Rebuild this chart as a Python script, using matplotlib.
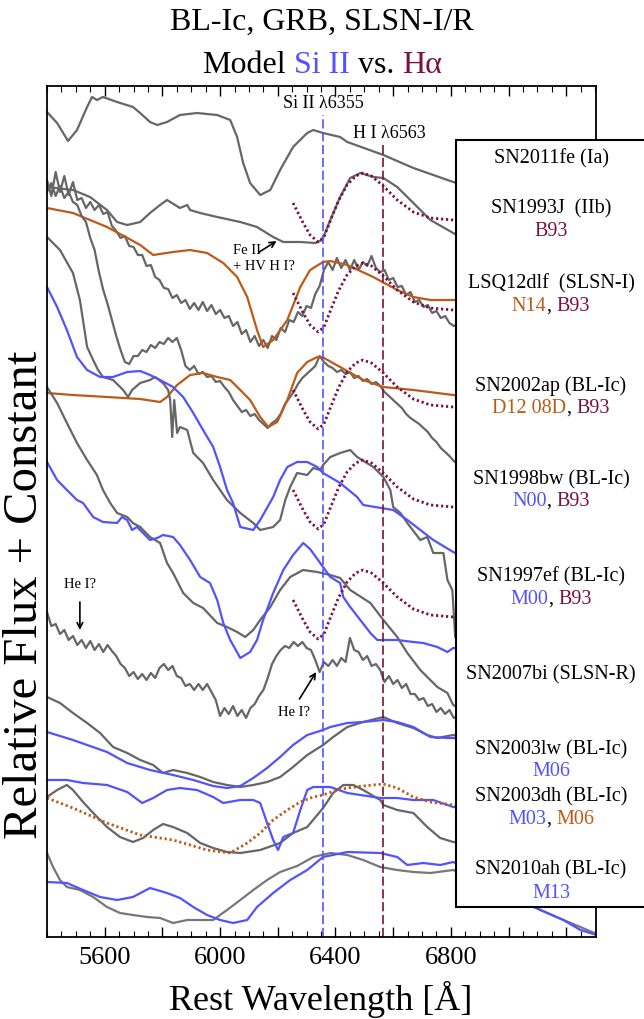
import numpy as np
import matplotlib
matplotlib.use("Agg")
import matplotlib.pyplot as plt
from matplotlib.patches import Rectangle

plt.rcParams['font.family'] = ['Liberation Serif', 'DejaVu Serif']

GRAY = '#666666'
BLUE = '#5252ff'
ORANGE = '#bd5a18'
MAROON = '#7a0f40'

# ---------------- data (wavelength in Angstrom, flux + constant, arbitrary units) -------------
GRID_START, GRID_STEP = 5400, 15   # sampling of the noisy spectra

fe11_wl = [5400,5435,5473,5504,5539,5556,5573,5594,5643,5698,5723,5757,5782,5816,5861,5920,5990,6035,
           6059,6080,6104,6139,6174,6208,6253,6302,6323,6357,6416,6441,6566,6670,6808,6972]
fe11_fx = [825,814,796,807,830,840,837,840,835,830,824,815,812,815,822,824,822,817,
           800,774,754,742,747,767,790,804,807,804,800,795,782,769,755,742]

j93_wl = [5400,5490,5549,5608,5643,5678,5723,5757,5792,5816,5861,5886,5896,5931,5990,6070,6128,
          6184,6219,6278,6330,6354,6382,6416,6451,6486,6531,6566,6614,6670,6729,6808,6900]
j93_fx = [750,747,740,727,715,712,715,724,732,737,729,732,727,724,720,715,710,
          700,695,695,694,697,717,740,759,764,760,759,750,734,717,704,690]

# B93 H-alpha model template (relative to its peak)
b93_wl = [6253,6288,6312,6340,6360,6382,6410,6440,6470,6495,6525,6566,6614,6670,6729,6808,6900]
b93_rel = [-30,-50,-62,-69,-64,-48,-28,-12,-3,0,-3,-13,-27,-39,-45,-47,-49]
b93_peak = {'SN1993J': 764, 'LSQ12dlf': 674, 'SN2002ap': 577, 'SN1998bw': 477, 'SN1997ef': 367}

lsq_fx = [757,741,765,745,761,742,755,737,739,729,
          735,727,732,723,725,711,706,699,701,691,
          690,682,682,671,672,660,657,649,648,639,
          642,634,637,628,634,627,635,626,632,623,
          627,619,621,611,615,603,607,595,601,591,
          597,589,601,597,609,605,617,615,625,621,
          631,629,643,651,667,675,667,679,669,677,
          667,677,667,675,671,681,669,665,667,657,
          659,650,651,642,645,635,637,630,632,624,
          626,619,621,614,611,613,609]

n14_wl = [5400,5490,5608,5660,5723,5768,5837,5896,5955,6011,6059,6094,6128,6149,6184,6233,6278,6312,
          6357,6382,6441,6531,6614,6670,6729,6808,6900]
n14_fx = [729,724,710,702,692,682,685,687,684,674,660,640,607,590,597,617,650,667,
          675,676,672,660,647,640,637,637,635]

ap02_fx = [745,754,741,751,739,745,735,732,721,715,
           699,687,665,647,633,617,601,587,575,573,
           581,581,587,585,592,589,595,593,599,595,
           599,587,571,567,571,563,565,560,561,555,
           556,550,545,537,531,525,527,521,523,517,
           513,509,514,517,523,533,539,545,553,559,
           563,567,571,581,575,571,569,565,567,563,
           565,559,561,556,558,553,555,551,545,541,
           537,533,529,523,519,516,513,509,505,499,
           495,489,485,481,476,473,469]

d12_wl = [5400,5490,5608,5723,5792,5816,5851,5896,5941,5990,6035,6070,6104,6139,6167,6198,6233,6267,
          6302,6337,6354,6416,6496,6566,6670,6808,6902]
d12_fx = [544,542,540,538,535,540,552,562,564,560,557,547,537,520,510,515,537,564,
          575,580,580,570,557,550,547,542,539]

bw98_wl = [5400,5445,5490,5514,5539,5560,5577,5594,5629,5664,5681,5695,5723,5757,5775,5802,5820,
           5827,5834,5841,5851,5861,5886,5907,5941,5976,6024,6070,6115,6139,6184,6208,6226,6243,
           6267,6302,6323,6347,6357,6382,6416,6451,6475,6531,6566,6590,6600,6625,6649,6694,6718,
           6739,6774,6788,6805,6815,6833]
bw98_fx = [700,687,664,637,590,577,567,560,557,547,540,547,554,557,560,554,547,
           537,500,537,504,510,507,484,474,457,437,424,414,407,410,417,437,450,
           464,462,469,467,472,480,484,487,480,470,460,447,430,424,414,397,400,
           384,384,357,347,300,290]

n00_wl = [5400,5435,5469,5504,5539,5584,5629,5678,5723,5757,5792,5837,5872,5907,5941,5976,6000,6024,
          6045,6070,6115,6139,6184,6208,6233,6267,6302,6337,6357,6416,6475,6496,6600,6649,6694,6739,
          6808,6902]
n00_fx = [650,630,607,580,567,560,560,565,566,562,557,550,540,524,507,490,470,447,
          434,410,407,417,440,457,470,475,475,470,464,454,440,432,427,417,407,397,
          385,372]

ef97_wl = [5400,5435,5469,5504,5539,5573,5594,5619,5643,5678,5698,5723,5757,5792,5816,5837,5872,5907,
           5941,5990,6024,6059,6087,6115,6139,6174,6208,6243,6288,6337,6382,6416,6451,6521,6566,6614,
           6649,6694,6753,6788,6808,6902]
ef97_fx = [550,534,514,494,477,462,447,434,424,420,414,410,400,394,374,364,344,334,
           329,314,310,305,300,307,317,330,347,360,367,365,362,359,347,334,317,300,
           284,267,250,244,232,217]

m00_wl = [5400,5435,5469,5504,5525,5560,5594,5643,5660,5678,5695,5712,5733,5757,5782,5802,5837,5861,
          5896,5931,5965,5990,6011,6035,6070,6104,6128,6149,6184,6219,6253,6288,6312,6347,6382,6416,
          6427,6451,6486,6521,6545,6614,6670,6704,6753,6788,6808,6902]
m00_fx = [475,457,447,437,434,420,415,414,420,417,407,410,404,397,399,402,400,392,
          377,360,354,337,314,297,279,285,297,317,344,367,382,394,388,374,360,354,
          340,330,317,304,297,297,295,294,290,285,289,287]

bi07_fx = [325,311,313,303,307,297,301,292,297,289,
           296,287,293,285,292,286,281,273,269,261,
           265,258,263,257,264,259,269,273,267,271,
           261,259,251,253,247,253,247,253,245,237,
           221,229,223,231,221,227,219,229,233,241,
           247,259,273,281,287,291,289,295,291,295,
           289,287,277,265,275,271,277,271,279,275,
           299,287,285,277,281,271,273,267,255,261,
           253,257,249,253,243,243,237,239,231,233,
           225,229,223,227,219,221,215]

lw03_wl = [5400,5445,5490,5539,5584,5629,5678,5723,5768,5802,5837,5886,5931,5976,6024,6070,6115,6163,
           6208,6253,6302,6357,6392,6441,6496,6566,6614,6670,6718,6753,6808,6902]
lw03_fx = [240,234,224,214,204,190,184,177,172,164,167,164,160,155,152,150,152,155,
           160,170,182,192,200,210,215,220,214,209,202,199,202,197]

m06lw_wl = [5400,5490,5608,5678,5757,5837,5907,5976,6024,6070,6115,6163,6208,6253,6302,6357,6382,
            6441,6496,6566,6614,6670,6729,6788,6808,6902]
m06lw_fx = [205,197,185,174,167,162,157,151,149,151,159,169,180,192,202,207,210,
            214,215,217,215,210,200,199,199,197]

dh03_wl = [5400,5435,5469,5490,5525,5560,5608,5653,5698,5733,5768,5802,5837,5886,5931,5976,6024,6070,
           6139,6208,6253,6302,6357,6392,6427,6462,6496,6555,6566,6614,6670,6718,6763,6808,6902]
dh03_fx = [140,147,152,147,135,124,110,100,95,99,107,113,110,104,94,89,85,84,
           87,94,104,110,129,144,152,152,147,137,132,127,124,110,99,95,92]

m03_wl = [5400,5469,5525,5608,5678,5730,5768,5816,5861,5920,5976,6011,6070,6115,6139,6163,6184,6201,
          6219,6253,6278,6302,6323,6382,6441,6555,6614,6670,6739,6788,6808,6902]
m03_fx = [157,157,154,152,145,134,139,147,149,147,140,134,137,137,134,114,97,87,
          100,104,127,147,150,150,144,139,139,137,137,132,130,127]

m06dh_wl = [5400,5490,5608,5723,5837,5955,6035,6094,6139,6184,6233,6278,6323,6357,6406,6441,6496,
            6566,6614,6670,6729,6808,6902]
m06dh_fx = [139,129,114,102,97,87,84,94,104,117,127,135,140,142,147,149,151,
            153,149,140,135,132,129]

ah10_wl = [5400,5421,5445,5469,5514,5560,5608,5653,5698,5747,5792,5837,5886,5931,5976,6024,6070,6115,
           6163,6208,6267,6323,6382,6441,6496,6555,6614,6670,6729,6808,6937,7086,7135,7190,7249,7305]
ah10_fx = [84,70,57,50,47,40,30,24,22,20,19,14,17,17,17,27,37,47,
           57,65,71,80,84,82,77,70,67,65,64,67,52,30,24,17,10,3]

m13_wl = [5400,5469,5525,5584,5643,5698,5757,5816,5861,5907,5955,6000,6045,6094,6128,6184,6243,6302,
          6357,6441,6555,6614,6649,6704,6763,6808,6937,7110,7190,7249,7305]
m13_fx = [55,54,47,40,37,40,49,44,39,30,22,17,14,17,30,44,57,67,
          80,85,84,80,72,74,72,75,57,27,17,7,2]

SI_WL, HA_WL = 6355, 6563
xtick_vals = [5600, 5800, 6000, 6200, 6400, 6600, 6800, 7000, 7200]
xtick_labels = ['5600', '', '6000', '', '6400', '', '6800', '', '']

legend_rows = [
    (157, [("SN2011fe (Ia)", 'k', 0)]),
    (207, [("SN1993J  (IIb)", 'k', 0)]),
    (230, [("B93", MAROON, 0)]),
    (282, [("LSQ12dlf  (SLSN-I)", 'k', 0)]),
    (305, [("N14", ORANGE, 0), (",", 'k', 1), ("B93", MAROON, 0)]),
    (385, [("SN2002ap (BL-Ic)", 'k', 0)]),
    (407, [("D12 08D", ORANGE, 0), (",", 'k', 1), ("B93", MAROON, 0)]),
    (478, [("SN1998bw (BL-Ic)", 'k', 0)]),
    (500, [("N00", BLUE, 0), (",", 'k', 1), ("B93", MAROON, 0)]),
    (575, [("SN1997ef (BL-Ic)", 'k', 0)]),
    (598, [("M00", BLUE, 0), (",", 'k', 1), ("B93", MAROON, 0)]),
    (673, [("SN2007bi (SLSN-R)", 'k', 0)]),
    (748, [("SN2003lw (BL-Ic)", 'k', 0)]),
    (770, [("M06", BLUE, 0)]),
    (795, [("SN2003dh (BL-Ic)", 'k', 0)]),
    (818, [("M03", BLUE, 0), (",", 'k', 1), ("M06", ORANGE, 0)]),
    (868, [("SN2010ah (BL-Ic)", 'k', 0)]),
    (892, [("M13", BLUE, 0)]),
]

# ---------------- figure -------------
W, H = 644, 1019
fig = plt.figure(figsize=(W / 100, H / 100), dpi=100)
ax = fig.add_axes([47 / W, (H - 937) / H, 549 / W, 851 / H])
ax.set_xlim(5400, 7303)
ax.set_ylim(0, 851)

def grid_wl(fx):
    return GRID_START + GRID_STEP * np.arange(len(fx))

LW = 1.6
dotted = (0, (0.8, 1.0))

# spectra + models (top to bottom)
ax.plot(fe11_wl, fe11_fx, color=GRAY, lw=LW)
ax.plot(j93_wl, j93_fx, color=GRAY, lw=LW)
ax.plot(grid_wl(lsq_fx), lsq_fx, color=GRAY, lw=LW)
ax.plot(n14_wl, n14_fx, color=ORANGE, lw=LW)
ax.plot(grid_wl(ap02_fx), ap02_fx, color=GRAY, lw=LW)
ax.plot(d12_wl, d12_fx, color=ORANGE, lw=LW)
ax.plot(bw98_wl, bw98_fx, color=GRAY, lw=LW)
ax.plot(n00_wl, n00_fx, color=BLUE, lw=LW)
ax.plot(ef97_wl, ef97_fx, color=GRAY, lw=LW)
ax.plot(m00_wl, m00_fx, color=BLUE, lw=LW)
ax.plot(grid_wl(bi07_fx), bi07_fx, color=GRAY, lw=LW)
ax.plot(lw03_wl, lw03_fx, color=GRAY, lw=LW)
ax.plot(m06lw_wl, m06lw_fx, color=BLUE, lw=LW)
ax.plot(dh03_wl, dh03_fx, color=GRAY, lw=LW)
ax.plot(m03_wl, m03_fx, color=BLUE, lw=LW)
ax.plot(m06dh_wl, m06dh_fx, color=ORANGE, lw=2.0, linestyle=dotted)
ax.plot(ah10_wl, ah10_fx, color='#777777', lw=LW)
ax.plot(m13_wl, m13_fx, color=BLUE, lw=LW)

for name, peak in b93_peak.items():
    ax.plot(b93_wl, np.array(b93_rel) + peak, color=MAROON, lw=2.0, linestyle=dotted)

# reference lines
ax.vlines(SI_WL, 0, 822, colors=BLUE, lw=1.2, linestyles=(0, (5.5, 2.2)))
ax.vlines(HA_WL, 0, 794, colors=MAROON, lw=1.2, linestyles=(0, (5.5, 2.2)))
ax.text(SI_WL + 2, 834, 'Si II \u03bb6355', ha='center', va='center', fontsize=13)
ax.text(HA_WL + 24, 804, 'H I \u03bb6563', ha='center', va='center', fontsize=13)

# annotations
ax.text(6045, 687, 'Fe II', ha='left', va='center', fontsize=10.5)
ax.text(6045, 671, '+ HV H I?', ha='left', va='center', fontsize=10.5)
ax.annotate('', xy=(6196, 696), xytext=(6136, 685),
            arrowprops=dict(arrowstyle='->', lw=1.2, color='k', shrinkA=0, shrinkB=0))
ax.text(5514, 352, 'He I?', ha='center', va='center', fontsize=10.5)
ax.annotate('', xy=(5514, 307), xytext=(5514, 335),
            arrowprops=dict(arrowstyle='->', lw=1.2, color='k', shrinkA=0, shrinkB=0))
ax.text(6257, 224, 'He I?', ha='center', va='center', fontsize=10.5)
ax.annotate('', xy=(6333, 265), xytext=(6275, 238),
            arrowprops=dict(arrowstyle='->', lw=1.2, color='k', shrinkA=0, shrinkB=0))

# axes styling
ax.set_xticks(xtick_vals)
ax.set_xticklabels(xtick_labels, fontsize=19)
ax.set_xticks(np.arange(5400, 7301, 50), minor=True)
ax.set_yticks([])
ax.tick_params(axis='x', which='major', direction='in', top=True, length=7, width=1, pad=7)
ax.tick_params(axis='x', which='minor', direction='in', top=True, length=4, width=0.8)
for sp in ax.spines.values():
    sp.set_linewidth(1.3)

# figure texts
fig.text(321 / W, 1 - 1010 / H, 'Rest Wavelength [\u00c5]', ha='center', va='baseline', fontsize=26)
fig.text(25 / W, 1 - 595 / H, 'Relative Flux + Constant', ha='center', va='center',
         rotation=90, fontsize=35)
fig.text(322 / W, 1 - 30 / H, 'BL-Ic, GRB, SLSN-I/R', ha='center', va='baseline', fontsize=23)

# legend box
box = Rectangle((456 / W, (H - 907) / H), (W + 20 - 456) / W, (907 - 140) / H,
                transform=fig.transFigure, facecolor='white', edgecolor='k', lw=1.5,
                zorder=5, clip_on=False)
fig.add_artist(box)

renderer = fig.canvas.get_renderer()

def multicolor(xc_px, ybase_px, parts, size, zorder=7):
    texts, widths = [], []
    space = 0.25 * size * 100 / 72
    for s, c, nsp in parts:
        t = fig.text(0, 1 - ybase_px / H, s, color=c, fontsize=size, ha='left',
                     va='baseline', zorder=zorder)
        w = t.get_window_extent(renderer).width
        texts.append(t)
        widths.append(w + nsp * space)
    total = sum(widths)
    x = xc_px - total / 2
    for t, w in zip(texts, widths):
        t.set_x(x / W)
        x += w

multicolor(322, 73, [("Model", 'k', 1), ("Si II", BLUE, 1), ("vs.", 'k', 1), ("H\u03b1", MAROON, 0)], 23)
for yc, parts in legend_rows:
    multicolor(551, yc + 6, parts, 14.5)

fig.savefig('out.png', dpi=100)
